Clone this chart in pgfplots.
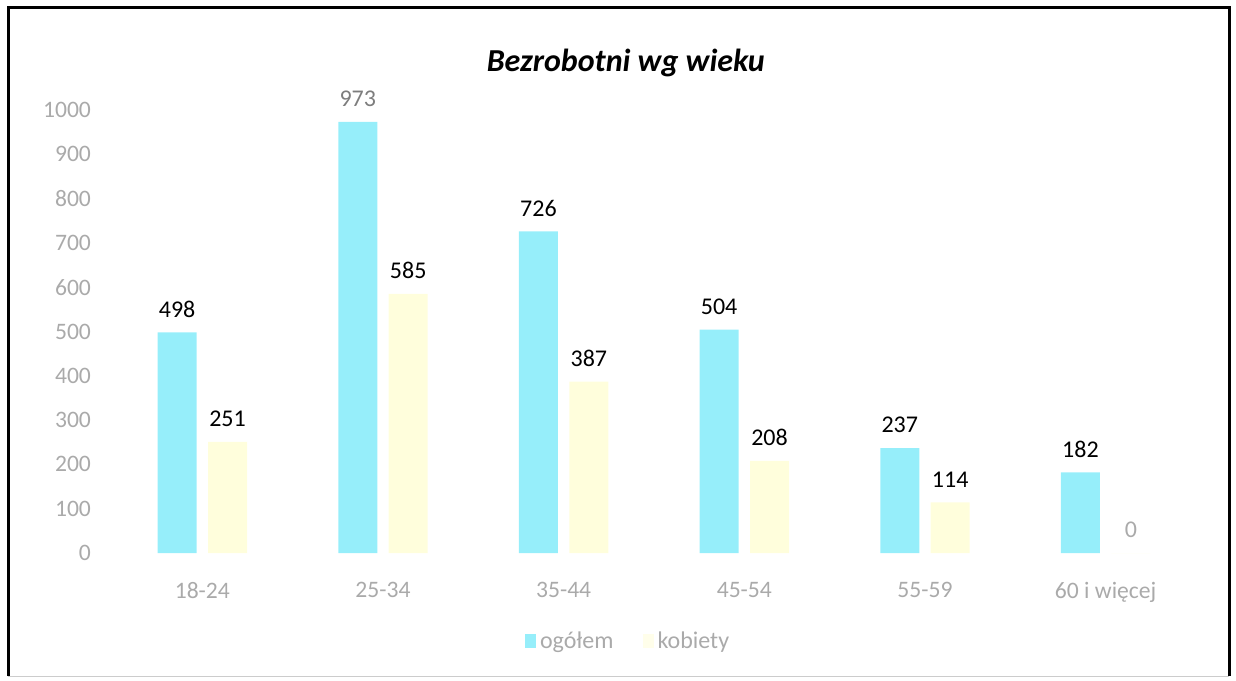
\documentclass[border=0pt]{standalone}
\usepackage{pgfplots}
\pgfplotsset{compat=1.18}
\usepackage{fontspec}
\setmainfont{Carlito}
\definecolor{cy}{RGB}{150,238,250}
\definecolor{ye}{RGB}{255,254,220}
\definecolor{tk}{RGB}{170,170,170}
\definecolor{lb}{RGB}{125,125,125}
\begin{document}
\begin{tikzpicture}
\path[use as bounding box] (0pt,0pt) rectangle (618pt,340pt);
\draw[line width=0.5pt, gray!40] (4pt,2pt) -- (614.5pt,2pt);
\draw[line width=1.5pt] (4pt,2pt) -- (4pt,336pt) -- (614.5pt,336pt) -- (614.5pt,2pt);
\begin{axis}[
  at={(56pt,63.5pt)}, anchor=south west,
  width=542pt, height=221.5pt, scale only axis,
  ymin=0, ymax=1000, xmin=-0.5, xmax=5.5,
  ytick={0,100,...,1000},
  xtick={0,...,5},
  xticklabels={18-24,25-34,35-44,45-54,55-59,60 i więcej},
  axis line style={draw=none}, major tick length=0pt,
  tick label style={font=\fontsize{11.8}{14}\selectfont, text=tk},
  /pgf/number format/assume math mode=true,
  /pgf/number format/1000 sep={},
  yticklabel style={xshift=-7pt},
  xticklabel style={yshift=-11pt},
  ybar, bar width=19.5pt,
  point meta=explicit symbolic,
  nodes near coords,
  nodes near coords style={font=\fontsize{12}{14}\selectfont, text=black, yshift=4pt},
  legend style={at={(0.477,-0.2)}, anchor=center, draw=none, fill=none,
    legend columns=2, font=\fontsize{12}{14}\selectfont, text=tk,
    /tikz/every even column/.append style={column sep=12.5pt}},
  title={Bezrobotni wg wieku},
  title style={at={(0.474,1.079)}, anchor=center, yshift=0pt, font=\fontsize{16}{18}\selectfont\bfseries\itshape},
]
\addplot[fill=cy, draw=none, bar shift=-12.6pt,
  legend image code/.code={\fill[cy] (0pt,-3pt) rectangle (5.5pt,4pt);}]
  coordinates {(0,498)[498] (1,973)[\textcolor{lb}{973}] (2,726)[726] (3,504)[504] (4,237)[237] (5,182)[182]};
\addplot[fill=ye, draw=none, bar shift=12.6pt,
  legend image code/.code={\fill[ye!60!white] (0pt,-3pt) rectangle (5.5pt,4pt);}]
  coordinates {(0,251)[251] (1,585)[585] (2,387)[387] (3,208)[208] (4,114)[114] (5,0)[\textcolor{tk}{0}]};
\legend{ogółem, kobiety}
\end{axis}
\end{tikzpicture}
\end{document}
